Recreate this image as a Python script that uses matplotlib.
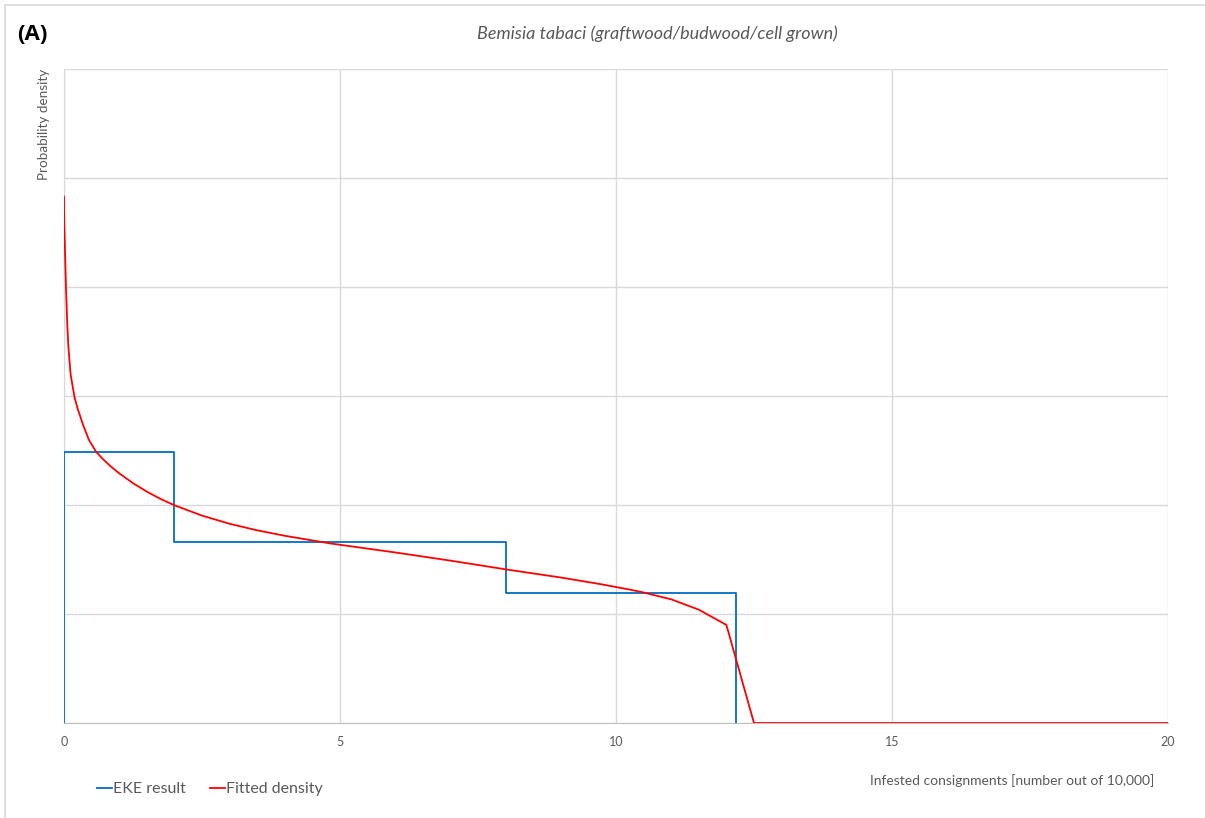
import matplotlib.pyplot as plt
from matplotlib.lines import Line2D

# Datos (unidades de densidad arbitrarias: 1 = una linea de cuadricula)
eke_edges = [0, 2, 8, 12.17]
eke_levels = [2.49, 1.66, 1.19]

fit_x = [0.0, 0.005, 0.02, 0.036, 0.06, 0.08, 0.12, 0.19, 0.25, 0.35, 0.45, 0.58, 0.7,
         0.83, 1.0, 1.25, 1.5, 1.75, 2.0, 2.5, 3.0, 3.5, 4.0, 4.82, 5.36, 6.0, 7.0,
         8.0, 9.0, 9.71, 10.24, 10.48, 11.0, 11.5, 12.0, 12.5, 20.0]
fit_y = [4.83, 4.6, 4.3, 4.0, 3.65, 3.45, 3.2, 2.99, 2.88, 2.73, 2.6, 2.49, 2.424,
         2.362, 2.291, 2.201, 2.123, 2.056, 1.998, 1.903, 1.828, 1.768, 1.718, 1.648, 1.61,
         1.565, 1.49, 1.41, 1.335, 1.275, 1.225, 1.20, 1.135, 1.04, 0.90, 0.0, 0.0]

xticks = [0, 5, 10, 15, 20]
title = 'Bemisia tabaci (graftwood/budwood/cell grown)'

plt.rcParams['font.family'] = ['Lato', 'DejaVu Sans']
gris_texto = '#595959'
gris_linea = '#d9d9d9'

fig = plt.figure(figsize=(12.05, 8.18), dpi=100)
ax = fig.add_axes([0.0531, 0.1161, 0.9162, 0.7995])

# escalones del resultado EKE
sx = [eke_edges[0]]
sy = [0]
for i, lvl in enumerate(eke_levels):
    sx += [eke_edges[i], eke_edges[i + 1]]
    sy += [lvl, lvl]
sx.append(eke_edges[-1])
sy.append(0)
ax.plot(sx, sy, color='#0070C0', lw=1.3, zorder=3)
ax.plot(fit_x, fit_y, color='#FF0000', lw=1.3, zorder=4)

ax.set_xlim(0, 20)
ax.set_ylim(0, 6)
ax.set_xticks(xticks)
ax.set_yticks(range(0, 7))
ax.set_yticklabels([])
ax.tick_params(length=0, labelsize=9, colors=gris_texto, pad=9)
ax.tick_params(axis='y', pad=0)
ax.grid(True, color=gris_linea, lw=1)
ax.set_axisbelow(True)
for s in ['top', 'right']:
    ax.spines[s].set_visible(False)
ax.spines['left'].set_color(gris_linea)
ax.spines['bottom'].set_color('#bfbfbf')

fig.text(0.0365, 0.916, 'Probability density', rotation=90, ha='center', va='top',
         fontsize=9.7, color=gris_texto)
fig.text(0.9577, 1 - 781 / 818, 'Infested consignments [number out of 10,000]',
         ha='right', va='center', fontsize=10, color=gris_texto)
fig.text(657 / 1205, 1 - 34 / 818, title, ha='center', va='center', fontsize=13,
         style='italic', color=gris_texto)
fig.text(0.0141, 1 - 35 / 818, '(A)', ha='left', va='center', fontsize=16,
         fontweight='bold', color='black', family=['Open Sans', 'DejaVu Sans'])

handles = [Line2D([], [], color='#0070C0', lw=1.3), Line2D([], [], color='#FF0000', lw=1.3)]
fig.legend(handles, ['EKE result', 'Fitted density'], loc='center left',
           bbox_to_anchor=(0.0687, 1 - 789 / 818), ncol=2, frameon=False, fontsize=11.5,
           handlelength=0.95, handletextpad=0.05, columnspacing=1.5, labelcolor=gris_texto)

# borde del area del grafico (solo arriba e izquierda visibles)
fig.add_artist(Line2D([5 / 1205, 1], [1 - 5 / 818, 1 - 5 / 818], color=gris_linea, lw=1.2))
fig.add_artist(Line2D([5 / 1205, 5 / 1205], [0, 1 - 5 / 818], color=gris_linea, lw=1.2))

fig.savefig('out.png', dpi=100)
